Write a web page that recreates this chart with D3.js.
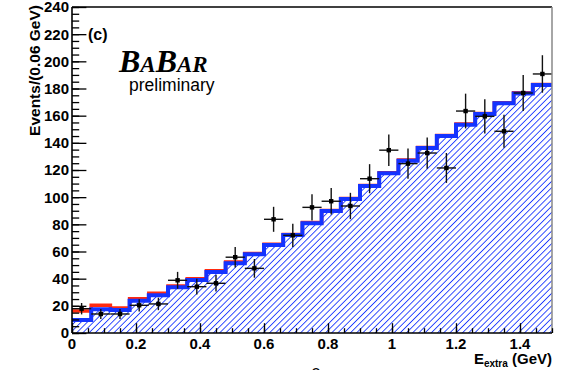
<!DOCTYPE html>
<html>
<head>
<meta charset="utf-8">
<script src="https://cdn.jsdelivr.net/npm/d3@7"></script>
<style>
  body { margin: 0; background: #fff; }
  text { font-family: "Liberation Sans", Arial, sans-serif; fill: #000; }
</style>
</head>
<body>
<div id="chart"></div>
<script>
var svgWidth = 566;
var svgHeight = 370;

// bin centres (GeV), 0.06 GeV bins
var binCenters = [0.03, 0.09, 0.15, 0.21, 0.27, 0.33, 0.39, 0.45, 0.51, 0.57, 0.63, 0.69, 0.75,
                  0.81, 0.87, 0.93, 0.99, 1.05, 1.11, 1.17, 1.23, 1.29, 1.35, 1.41, 1.47];
var binWidth = 0.06;

// blue (hatched) histogram
var blueHist = [9.6, 17.4, 16.9, 23.8, 27.7, 33.6, 39.0, 44.9, 51.3, 57.9, 64.8, 72.1, 80.8,
                89.8, 98.6, 108.2, 117.6, 126.9, 136.2, 145.0, 153.4, 161.2, 169.1, 176.4, 182.6];
// red histogram
var redHist = [16.2, 20.4, 18.4, 25.3, 29.2, 34.6, 40.0, 45.9, 52.2, 58.6, 65.4, 72.6, 81.3,
               90.2, 99.0, 108.6, 118.0, 127.4, 136.6, 145.4, 153.8, 161.6, 169.5, 176.8, 183.0];
// data points and errors
var dataY = [17.9, 14.0, 14.0, 20.4, 21.4, 38.8, 34.1, 36.6, 55.8, 47.6, 83.7, 71.9, 92.5,
             97.0, 93.5, 113.6, 134.6, 124.7, 132.5, 121.5, 163.4, 159.5, 148.5, 176.7, 190.7];
var dataErr = [4.2, 3.7, 3.7, 4.5, 4.6, 6.2, 5.8, 6.1, 7.5, 6.9, 9.2, 8.5, 9.6,
               9.8, 9.7, 10.7, 11.6, 11.2, 11.5, 11.0, 12.8, 12.6, 12.2, 13.3, 13.8];

var xTicks = [0, 0.2, 0.4, 0.6, 0.8, 1, 1.2, 1.4];
var yTicks = [0, 20, 40, 60, 80, 100, 120, 140, 160, 180, 200, 220, 240];

var margin = {top: 7, right: 14, bottom: 37, left: 72};
var chartWidth = svgWidth - margin.left - margin.right;
var chartHeight = svgHeight - margin.top - margin.bottom;

var svg = d3.select("#chart").append("svg")
      .attr("width", svgWidth)
      .attr("height", svgHeight);

var x = d3.scaleLinear().domain([0, 1.5]).range([0, chartWidth]);
var y = d3.scaleLinear().domain([0, 240]).range([chartHeight, 0]);

// hatch pattern
var defs = svg.append("defs");
var pat = defs.append("pattern")
    .attr("id", "hatch")
    .attr("patternUnits", "userSpaceOnUse")
    .attr("width", 4.4).attr("height", 4.4)
    .attr("patternTransform", "rotate(45)");
pat.append("line")
    .attr("x1", 0).attr("y1", 0).attr("x2", 0).attr("y2", 4.4)
    .attr("stroke", "#1f3cff").attr("stroke-width", 1.8);

var chartGroup = svg.append("g")
    .attr("transform", `translate(${margin.left}, ${margin.top})`);

function stepPoints(vals) {
  var pts = binCenters.map((c, i) => [c - binWidth / 2, vals[i]]);
  pts.push([1.5, vals[vals.length - 1]]);
  return pts;
}

var area = d3.area()
    .x(d => x(d[0])).y0(y(0)).y1(d => y(d[1]))
    .curve(d3.curveStepAfter);
var line = d3.line()
    .x(d => x(d[0])).y(d => y(d[1]))
    .curve(d3.curveStepAfter);

chartGroup.append("path")
    .attr("d", area(stepPoints(blueHist)))
    .attr("fill", "url(#hatch)");

chartGroup.append("path")
    .attr("d", line(stepPoints(redHist)))
    .attr("fill", "none")
    .attr("stroke", "#ff2a10")
    .attr("stroke-width", 3.5);

chartGroup.append("path")
    .attr("d", line(stepPoints(blueHist)))
    .attr("fill", "none")
    .attr("stroke", "#1433ff")
    .attr("stroke-width", 4);

// error bars
var pts = chartGroup.selectAll(".pt")
    .data(binCenters.map((c, i) => ({x: c, y: dataY[i], e: dataErr[i]})))
    .enter().append("g");
pts.append("line")
    .attr("x1", d => x(d.x - binWidth / 2)).attr("x2", d => x(d.x + binWidth / 2))
    .attr("y1", d => y(d.y)).attr("y2", d => y(d.y))
    .attr("stroke", "#111").attr("stroke-width", 1.4);
pts.append("line")
    .attr("x1", d => x(d.x)).attr("x2", d => x(d.x))
    .attr("y1", d => y(d.y - d.e)).attr("y2", d => y(d.y + d.e))
    .attr("stroke", "#111").attr("stroke-width", 1.4);
pts.append("rect")
    .attr("x", d => x(d.x) - 2.2).attr("y", d => y(d.y) - 2.2)
    .attr("width", 4.4).attr("height", 4.4)
    .attr("fill", "#000");

// frame top and right
chartGroup.append("line")
    .attr("x1", 0).attr("x2", chartWidth).attr("y1", 0).attr("y2", 0)
    .attr("stroke", "#000").attr("stroke-width", 1.5);
chartGroup.append("line")
    .attr("x1", chartWidth).attr("x2", chartWidth).attr("y1", 0).attr("y2", chartHeight)
    .attr("stroke", "#888").attr("stroke-width", 1.5);

// x axis (ticks inward)
var xAxis = chartGroup.append("g").attr("transform", `translate(0, ${chartHeight})`);
xAxis.append("g").call(d3.axisTop(x).ticks(30).tickSize(4.8).tickFormat(""))
    .call(g => g.select(".domain").remove());
xAxis.append("g").call(d3.axisTop(x).tickValues(xTicks).tickSize(9.8).tickFormat(""))
    .call(g => g.select(".domain").remove());
xAxis.selectAll("line").attr("stroke", "#000").attr("stroke-width", 1.3);
xAxis.append("line").attr("x1", 0).attr("x2", chartWidth)
    .attr("stroke", "#000").attr("stroke-width", 1.6);
xAxis.selectAll(".xlab").data(xTicks).enter().append("text")
    .attr("class", "xlab")
    .attr("x", d => x(d)).attr("y", 15.5)
    .attr("text-anchor", "middle")
    .attr("font-size", "15px").attr("font-weight", "bold")
    .text(d => d);

// y axis
var yAxis = chartGroup.append("g");
yAxis.append("g").call(d3.axisRight(y).ticks(48).tickSize(7.2).tickFormat(""))
    .call(g => g.select(".domain").remove());
yAxis.append("g").call(d3.axisRight(y).tickValues(yTicks).tickSize(14.4).tickFormat(""))
    .call(g => g.select(".domain").remove());
yAxis.selectAll("line").attr("stroke", "#000").attr("stroke-width", 1.3);
yAxis.append("line").attr("y1", 0).attr("y2", chartHeight)
    .attr("stroke", "#000").attr("stroke-width", 1.6);
yAxis.selectAll(".ylab").data(yTicks).enter().append("text")
    .attr("class", "ylab")
    .attr("x", -3).attr("y", d => y(d))
    .attr("dy", "0.36em")
    .attr("text-anchor", "end")
    .attr("font-size", "15px").attr("font-weight", "bold")
    .text(d => d);

// axis titles
svg.append("text")
    .attr("transform", "rotate(-90)")
    .attr("x", -5).attr("y", 40)
    .attr("text-anchor", "end")
    .attr("font-size", "15.5px").attr("font-weight", "bold")
    .text("Events/(0.06 GeV)");

var xt = svg.append("text")
    .attr("x", 552).attr("y", 364)
    .attr("text-anchor", "end")
    .attr("font-size", "15px").attr("font-weight", "bold");
xt.append("tspan").text("E");
xt.append("tspan").attr("font-size", "10px").attr("dy", 3).text("extra");
xt.append("tspan").attr("dy", -3).text(" (GeV)");

// labels
svg.append("text")
    .attr("x", 88).attr("y", 40)
    .attr("font-size", "16px").attr("font-weight", "bold")
    .text("(c)");

var logo = svg.append("text")
    .attr("x", 119).attr("y", 72)
    .style("font-family", "'Liberation Serif', 'Times New Roman', serif")
    .attr("font-style", "italic").attr("font-weight", "bold");
logo.append("tspan").attr("font-size", "32px").text("B");
logo.append("tspan").attr("font-size", "23px").text("A");
logo.append("tspan").attr("font-size", "32px").text("B");
logo.append("tspan").attr("font-size", "23px").text("AR");

svg.append("text")
    .attr("x", 129).attr("y", 91)
    .attr("font-size", "17.5px")
    .text("preliminary");

// stray glyph cut at the bottom edge
svg.append("text")
    .attr("x", 316).attr("y", 381)
    .attr("text-anchor", "middle")
    .attr("font-size", "18px")
    .text("0");
</script>
</body>
</html>
